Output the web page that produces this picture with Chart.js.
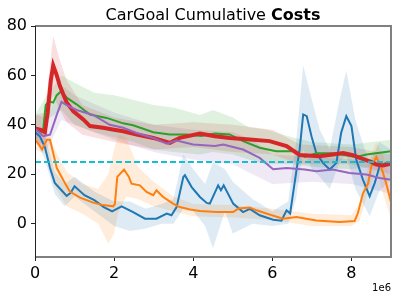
<!DOCTYPE html>
<html>
<head>
<meta charset="utf-8">
<script src="https://cdn.jsdelivr.net/npm/chart.js@4/dist/chart.umd.min.js"></script>
<style>
	html, body { margin: 0; padding: 0; background: #fff; }
	canvas { display: block; }
</style>
</head>
<body>
<canvas id="chart" width="399" height="301"></canvas>
<script>
	// x values are in units of 1e6 steps
	var xTicks = [0, 2, 4, 6, 8];
	var yTicks = [0, 20, 40, 60, 80];
	var threshold = 25;

	var blueX = [0, 0.12, 0.25, 0.38, 0.5, 0.67, 0.8, 0.9, 1.0, 1.25, 1.5, 1.74, 1.95, 2.19, 2.48, 2.78, 3.07, 3.33, 3.45, 3.58, 3.75, 3.79, 3.96, 4.17, 4.34, 4.42, 4.63, 4.7, 4.77, 5.01, 5.26, 5.43, 5.68, 6.02, 6.23, 6.36, 6.45, 6.61, 6.69, 6.78, 6.87, 6.99, 7.11, 7.28, 7.45, 7.62, 7.74, 7.87, 8.0, 8.12, 8.29, 8.46, 8.59, 8.71, 8.88, 9.0];
	var blueY = [37, 35.4, 31, 22.5, 16.5, 13.5, 11.2, 12.5, 15.1, 11.5, 9.5, 6.7, 5.0, 7.0, 4.7, 2.0, 2.0, 4.1, 3.4, 6.7, 18.9, 19.6, 14.8, 10.8, 8.4, 8.1, 15.5, 13.5, 15.5, 8.1, 4.7, 6.0, 3.4, 1.6, 1.2, 5.4, 4.1, 21.6, 30, 44.2, 43.5, 35.4, 28.6, 24.6, 21.9, 24.6, 36.8, 43.5, 39.5, 26, 17.8, 11.1, 16.5, 23.2, 24.6, 24];
	var blueBandX = [0, 0.25, 0.5, 0.75, 1.0, 1.5, 2.0, 2.4, 2.8, 3.2, 3.5, 3.75, 4.0, 4.3, 4.5, 4.8, 5.0, 5.5, 6.0, 6.4, 6.6, 6.78, 7.0, 7.2, 7.45, 7.7, 7.87, 8.1, 8.46, 8.7, 9.0];
	var blueHi = [40, 36, 21, 16, 19, 13, 9, 9, 6, 8, 10, 28, 22, 16, 25, 22, 17, 10, 5, 9, 33, 64, 50, 38, 30, 50, 62, 42, 24, 33, 30];
	var blueLo = [34, 26, 12, 7, 11, 5, -1, -3, -2, 0, 0, 6, 5, -1, -10, 5, -4, 0, -1, 0, 10, 30, 22, 19, 14, 25, 28, 14, 3, 13, 18];

	var orangeX = [0, 0.1, 0.18, 0.3, 0.38, 0.46, 0.55, 0.72, 0.88, 1.14, 1.47, 1.72, 1.98, 2.02, 2.08, 2.25, 2.37, 2.44, 2.65, 2.82, 2.99, 3.07, 3.24, 3.49, 3.66, 3.92, 4.17, 4.59, 5.01, 5.14, 5.43, 5.6, 5.85, 6.27, 6.61, 7.11, 7.7, 8.08, 8.16, 8.29, 8.42, 8.5, 8.63, 8.75, 8.88, 9.0];
	var orangeY = [34, 32, 30, 34, 34, 28.6, 22.5, 17.5, 13, 10.5, 8.5, 7.5, 7.0, 8, 18.9, 21.9, 19, 16.2, 15.5, 12.8, 11.5, 13.5, 10.8, 8.1, 6.7, 5.7, 5.1, 4.7, 4.7, 6.1, 6.5, 5.4, 4.1, 2.0, 2.7, 1.3, 0.7, 1.1, 4.1, 12.2, 16.2, 23, 27, 23, 16.2, 8.8];
	var orangeBandX = [0, 0.3, 0.5, 0.8, 1.2, 1.6, 1.85, 2.0, 2.1, 2.3, 2.6, 3.0, 3.5, 4.0, 5.0, 6.0, 7.0, 8.0, 8.2, 8.5, 8.63, 8.8, 9.0];
	var orangeHi = [37, 38, 30, 21, 16, 14, 20, 30, 36, 35, 23, 17, 11, 8, 7.5, 6, 4, 3.5, 8, 28, 33, 28, 18];
	var orangeLo = [30, 28, 15, 7, 4, 0, -8, -4, 4, 11, 10, 7, 5, 3, 2.5, 1.5, -1, -1, 1, 17, 22, 12, 2];

	var greenX = [0, 0.2, 0.27, 0.35, 0.46, 0.55, 0.67, 0.8, 1.05, 1.39, 1.81, 2.23, 2.48, 2.99, 3.41, 3.83, 4.2, 4.55, 4.92, 5.26, 5.68, 6.1, 6.52, 6.82, 7.11, 7.53, 8.12, 8.38, 9.0];
	var greenY = [38, 37, 48, 49.5, 49, 52, 53.7, 51, 48.3, 44.2, 42.8, 40.6, 39.8, 37, 36.1, 36.1, 35.5, 36.5, 36.1, 33.4, 30.7, 29.3, 29.3, 27, 28.5, 28.5, 27, 28, 29.3];
	var greenBandX = [0, 0.3, 0.67, 1.0, 1.5, 2.0, 2.5, 3.0, 3.5, 4.17, 4.5, 5.0, 5.4, 5.85, 6.5, 7.0, 8.0, 9.0];
	var greenHi = [44, 52, 60, 57, 53, 52, 50, 48, 47, 44, 46, 43, 39, 38, 35, 33, 32, 34];
	var greenLo = [33, 42, 46, 40, 37, 35, 33, 30, 29, 28, 29, 28, 26, 24, 24, 23, 22, 24];

	var redX = [0, 0.15, 0.25, 0.32, 0.4, 0.46, 0.55, 0.63, 0.8, 0.97, 1.22, 1.39, 1.72, 2.0, 2.23, 2.57, 2.99, 3.41, 3.66, 4.17, 4.55, 4.92, 5.43, 5.93, 6.36, 6.69, 7.2, 7.53, 7.79, 8.04, 8.21, 8.5, 8.63, 8.8, 9.0];
	var redY = [38.5, 38, 37, 45, 58, 64, 60, 55.7, 49, 45.5, 42.2, 39.5, 38.8, 38, 37.4, 36.1, 34.7, 32.7, 34.7, 36.5, 35.4, 34.7, 34.1, 33.4, 31.4, 27.8, 27.3, 28, 28.6, 27.7, 26.6, 25, 23.9, 23.5, 24.3];
	var redBandX = [0, 0.25, 0.46, 0.63, 0.8, 1.2, 2.0, 3.0, 4.0, 5.0, 6.0, 6.7, 8.0, 9.0];
	var redHi = [44, 45, 76, 66, 58, 48, 43, 40, 41, 40, 38, 32, 31, 28];
	var redLo = [33, 32, 52, 46, 41, 36, 33, 30, 31, 29, 28, 24, 24, 20];

	var purpleX = [0, 0.21, 0.38, 0.55, 0.67, 0.8, 1.05, 1.47, 1.89, 2.23, 2.57, 2.99, 3.33, 3.58, 4.0, 4.55, 4.76, 5.26, 5.68, 6.02, 6.36, 6.82, 7.11, 7.53, 7.95, 8.38, 8.71, 9.0];
	var purpleY = [38.5, 35.4, 36, 44, 49.3, 48, 46, 44, 40, 38.8, 36.7, 34.7, 32.4, 33.6, 32, 31.4, 32, 30, 26.6, 22, 22.5, 21.9, 21.2, 21.9, 20.5, 19.9, 18.5, 17.8];
	var purpleBandX = [0, 0.3, 0.67, 1.0, 2.0, 3.0, 4.0, 5.0, 5.5, 6.0, 7.0, 8.0, 9.0];
	var purpleHi = [44, 43, 56, 52, 45, 40, 38, 37, 34, 28, 27, 26, 24];
	var purpleLo = [33, 30, 42, 40, 34, 29, 26, 24, 20, 16, 17, 16, 12];

	function pts(xs, ys){
		return xs.map(function(x, i){ return {x: x, y: ys[i]}; });
	}

	function band(xs, hi, lo, rgb){
		return [
			{data: pts(xs, hi), borderWidth: 0, pointRadius: 0, fill: false, order: 100},
			{data: pts(xs, lo), borderWidth: 0, pointRadius: 0, fill: '-1', order: 100,
				backgroundColor: 'rgba(' + rgb + ',0.15)'}
		];
	}

	function line(xs, ys, color, width, order){
		return {data: pts(xs, ys), borderColor: color, borderWidth: width, pointRadius: 0, fill: false, order: order};
	}

	var datasets = [].concat(
		band(blueBandX, blueHi, blueLo, '31,119,180'),
		band(orangeBandX, orangeHi, orangeLo, '255,127,14'),
		band(greenBandX, greenHi, greenLo, '44,160,44'),
		band(redBandX, redHi, redLo, '214,39,40'),
		band(purpleBandX, purpleHi, purpleLo, '148,103,189'),
		[
			line(blueX, blueY, '#1f77b4', 2, 10),
			line(orangeX, orangeY, '#ff7f0e', 2, 9),
			line(greenX, greenY, '#2ca02c', 2, 8),
			line(redX, redY, '#d62728', 4, 7),
			line(purpleX, purpleY, '#9467bd', 2, 6),
			{data: [{x: 0, y: threshold}, {x: 9, y: threshold}], borderColor: '#17becf', borderWidth: 2,
				borderDash: [6, 3], pointRadius: 0, fill: false, order: 1}
		]
	);

	// frame, title and offset text, drawn like matplotlib does
	var decor = {
		id: 'decor',
		afterDraw: function(chart){
			var c = chart.ctx, a = chart.chartArea;
			c.save();
			c.strokeStyle = '#808080';
			c.lineWidth = 2;
			c.beginPath();
			c.moveTo(a.left, a.bottom);
			c.lineTo(a.right, a.bottom);
			c.lineTo(a.right, a.top);
			c.lineTo(a.left, a.top);
			c.stroke();
			c.strokeStyle = '#222';
			c.lineWidth = 1;
			c.beginPath();
			c.moveTo(a.left + 0.5, a.top);
			c.lineTo(a.left + 0.5, a.bottom + 1);
			c.stroke();

			c.fillStyle = '#000';
			c.textBaseline = 'alphabetic';
			c.textAlign = 'left';
			var t1 = 'CarGoal Cumulative ', t2 = 'Costs';
			c.font = '16px "DejaVu Sans"';
			var w1 = c.measureText(t1).width;
			c.font = 'bold 16px "DejaVu Sans"';
			var w2 = c.measureText(t2).width;
			var x0 = (a.left + a.right) / 2 - (w1 + w2) / 2;
			c.font = '16px "DejaVu Sans"';
			c.fillText(t1, x0, 19.5);
			c.font = 'bold 16px "DejaVu Sans"';
			c.fillText(t2, x0 + w1, 19.5);

			c.font = '10px "DejaVu Sans"';
			c.textAlign = 'right';
			c.fillText('1e6', a.right, 291);
			c.restore();
		}
	};

	var tickFont = {family: 'DejaVu Sans', size: 16};

	new Chart(document.getElementById('chart').getContext('2d'), {
		type: 'line',
		data: {datasets: datasets},
		plugins: [decor],
		options: {
			responsive: false,
			animation: false,
			devicePixelRatio: 1,
			layout: {padding: {top: 26, right: 8, left: 0, bottom: 0}},
			plugins: {
				legend: {display: false},
				tooltip: {enabled: false},
				title: {display: false}
			},
			elements: {line: {tension: 0}, point: {radius: 0}},
			scales: {
				x: {
					type: 'linear', min: 0, max: 9,
					afterBuildTicks: function(s){ s.ticks = xTicks.map(function(v){ return {value: v}; }); },
					afterFit: function(s){ s.height = 44; },
					ticks: {color: '#000', font: tickFont, padding: 3, maxRotation: 0, autoSkip: false,
						callback: function(v){ return String(v); }},
					grid: {display: true, drawOnChartArea: false, drawTicks: true, tickLength: 4, tickColor: '#222'},
					border: {display: false}
				},
				y: {
					type: 'linear', min: -13.5, max: 80,
					afterBuildTicks: function(s){ s.ticks = yTicks.map(function(v){ return {value: v}; }); },
					afterFit: function(s){ s.width = 35; },
					ticks: {color: '#000', font: tickFont, padding: 4, autoSkip: false,
						callback: function(v){ return String(v); }},
					grid: {display: true, drawOnChartArea: false, drawTicks: true, tickLength: 4, tickColor: '#222'},
					border: {display: false}
				}
			}
		}
	});
</script>
</body>
</html>
